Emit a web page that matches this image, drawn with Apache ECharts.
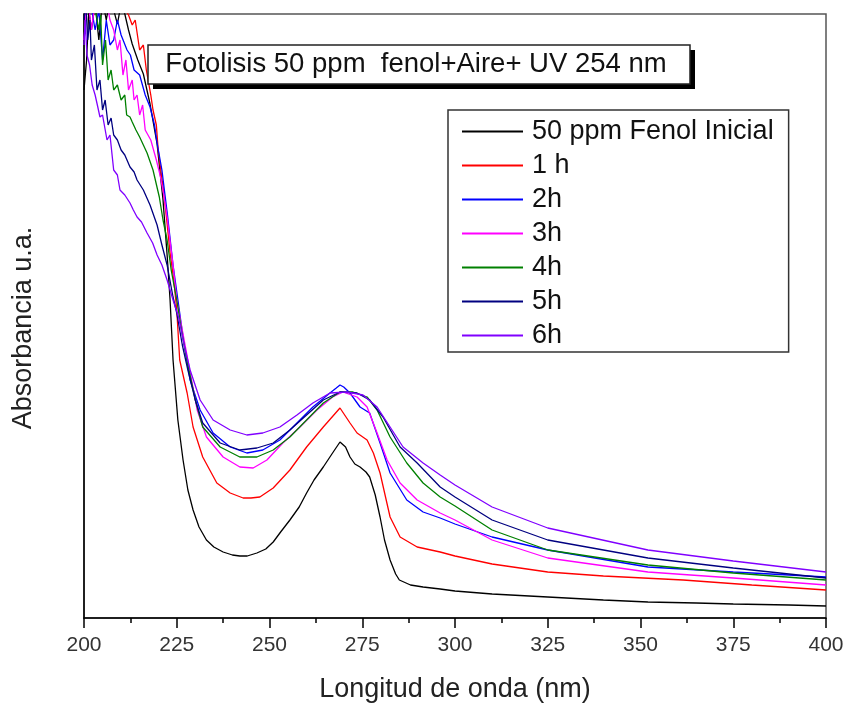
<!DOCTYPE html>
<html>
<head>
<meta charset="utf-8">
<script src="https://cdn.jsdelivr.net/npm/echarts@6/dist/echarts.min.js"></script>
<style>
html,body{margin:0;padding:0;background:#fff;}
#chart{width:843px;height:704px;}
</style>
</head>
<body>
<div id="chart"></div>
<script>
// Wavelength (nm) / absorbance (a.u.) pairs
const seriesNames = ['50 ppm Fenol Inicial', '1 h', '2h', '3h', '4h', '5h', '6h'];
const seriesColors = ['#000000', '#ff0000', '#0000ff', '#ff00ff', '#008000', '#000080', '#8000ff'];
const xTicks = [200, 225, 250, 275, 300, 325, 350, 375, 400];

const fenolInicial = [
  [200,2.64],[200.7,2.79],[201.3,3.04],[202,2.94],[203,3.07],[204,2.89],[205,3.09],[206,2.99],[207,3.09],[208,3.04],
  [209,2.97],[210,3.07],[211,3.02],[212,2.94],[213,2.87],[214.5,2.79],[216,2.72],[217.8,2.57],[219.7,2.37],[221.3,2.09],
  [222.5,1.79],[223.2,1.59],[224,1.29],[225.3,0.99],[226.7,0.79],[228,0.64],[229.4,0.54],[231,0.455],[233,0.39],[235,0.355],
  [237.5,0.33],[240,0.315],[242,0.31],[244,0.31],[246.6,0.325],[249,0.345],[251,0.38],[253,0.43],[255.5,0.49],[258,0.555],
  [260,0.625],[262,0.69],[264.5,0.755],[267,0.825],[269,0.88],[270.5,0.855],[271.7,0.805],[273,0.77],[274.4,0.755],[276,0.73],
  [277,0.705],[278.5,0.615],[279.8,0.505],[281,0.39],[282.5,0.29],[284,0.22],[285,0.19],[288,0.165],[291.4,0.155],[296,0.145],
  [300,0.135],[310,0.12],[325,0.105],[340,0.09],[352,0.08],[365,0.075],[375,0.07],[390,0.065],[400,0.06]
];
const h1 = [
  [200,3.1],[203,3.08],[206,3.1],[209,3.06],[210.5,3.08],[211.5,3.03],[212,3.015],[213,2.965],[213.8,2.99],[215,2.84],
  [216,2.865],[216.8,2.74],[218,2.615],[218.6,2.54],[219.5,2.465],[220,2.34],[221.3,2.155],[222.3,1.99],[223.2,1.825],[224.2,1.69],
  [225,1.54],[225.8,1.29],[227.8,1.125],[229.4,0.955],[232,0.805],[235.8,0.675],[239.4,0.625],[242.9,0.6],[245,0.6],[247.4,0.605],
  [251,0.65],[255.5,0.74],[260,0.855],[264.5,0.955],[269,1.05],[271.7,0.975],[273.6,0.925],[276.3,0.89],[278,0.825],[279.8,0.725],
  [282.5,0.505],[285.2,0.405],[289.8,0.355],[296,0.33],[300,0.31],[310,0.27],[325,0.23],[340,0.21],[361.5,0.19],[380,0.165],[400,0.14]
];
const h2 = [
  [200,3.08],[201,3.1],[202,3.05],[203,2.94],[204,3.04],[205,2.79],[206,2.99],[207,2.865],[208,2.89],[209,2.99],
  [210,2.915],[211.6,2.84],[212.5,2.815],[213.5,2.74],[215,2.715],[216.5,2.615],[217.8,2.555],[219,2.465],[219.7,2.375],[221,2.24],
  [222.5,2.015],[224,1.765],[225.5,1.565],[226.8,1.39],[228.6,1.19],[231.3,1.04],[234.8,0.925],[239.4,0.855],[243.9,0.825],[248.2,0.84],
  [252.8,0.89],[257.4,0.975],[261.7,1.055],[266.3,1.125],[268,1.15],[269,1.165],[270,1.155],[271.7,1.125],[274.4,1.055],[277,1.025],
  [279.8,0.875],[282.5,0.725],[287,0.59],[291.4,0.53],[296,0.5],[300,0.47],[310,0.405],[325,0.34],[352,0.255],[375,0.23],[400,0.205]
];
const h3 = [
  [200,2.89],[200.5,3.015],[201,3.1],[202,2.94],[203,3.08],[204,3.1],[205,3.05],[206,3.1],[207,2.99],[208,2.94],
  [209,2.84],[209.7,2.89],[210.5,2.715],[211.3,2.79],[212,2.64],[213,2.69],[213.5,2.59],[214.3,2.615],[215,2.515],[215.8,2.565],
  [216.5,2.44],[218,2.39],[219.5,2.29],[220.5,2.215],[221.5,2.115],[222.4,2.005],[224,1.765],[225,1.59],[226.5,1.44],[228,1.29],
  [230.5,1.04],[233,0.905],[237.5,0.805],[242,0.755],[245.6,0.75],[249.3,0.79],[253.6,0.875],[258.2,0.955],[262.8,1.04],[267,1.105],
  [269.8,1.13],[273.6,1.105],[276.3,1.055],[279,0.925],[281.7,0.79],[285.2,0.675],[289.8,0.59],[296,0.525],[300,0.49],[310,0.39],
  [325,0.3],[352,0.23],[375,0.2],[400,0.165]
];
const h4 = [
  [200,3.1],[201,3.08],[202,3.1],[203,3.05],[204,2.94],[204.5,3.015],[205,2.765],[205.8,2.89],[206.5,2.69],[207.3,2.74],
  [208,2.64],[209,2.665],[210,2.59],[211,2.615],[211.5,2.515],[212.4,2.505],[213,2.48],[214,2.44],[215,2.405],[216,2.365],
  [217,2.325],[218.6,2.24],[220.3,2.105],[221.3,1.99],[222.4,1.89],[223.5,1.74],[225,1.59],[226.5,1.415],[228,1.265],[230,1.09],
  [232,0.955],[236.7,0.855],[242,0.805],[246.6,0.805],[251,0.84],[255.5,0.905],[260,0.99],[264.5,1.075],[269,1.13],[272.5,1.13],
  [276.3,1.105],[279,1.04],[282.5,0.905],[287,0.775],[291.4,0.675],[296,0.605],[300,0.56],[310,0.44],[325,0.34],[352,0.265],
  [375,0.225],[400,0.19]
];
const h5 = [
  [200,2.99],[200.5,3.07],[201,2.89],[201.6,2.99],[202,2.79],[202.8,2.865],[203.5,2.64],[204.3,2.69],[205,2.54],[205.7,2.59],
  [206.5,2.465],[207.3,2.5],[208,2.415],[209,2.39],[210,2.34],[211,2.315],[212.4,2.255],[213.5,2.23],[214.3,2.19],[216,2.14],
  [217.8,2.065],[219.7,1.965],[221,1.865],[222.4,1.765],[224,1.605],[225,1.525],[226.5,1.365],[228,1.24],[230,1.09],[232,0.975],
  [236.7,0.875],[242,0.84],[246.6,0.85],[251,0.875],[255.5,0.94],[260,1.015],[264.5,1.09],[269,1.13],[273.6,1.125],[277,1.09],
  [280.6,1.005],[285.2,0.855],[289.8,0.775],[296,0.655],[300,0.605],[310,0.49],[325,0.39],[352,0.3],[375,0.25],[400,0.2]
];
const h6 = [
  [200,2.865],[200.3,2.99],[200.8,2.815],[201.5,2.765],[202.2,2.665],[203,2.615],[203.6,2.565],[204.3,2.505],[205,2.515],[206.2,2.39],
  [207,2.415],[208,2.24],[209,2.215],[209.7,2.14],[211,2.115],[212.4,2.075],[213.3,2.04],[214.3,2.005],[215.5,1.98],[217,1.925],
  [218.5,1.875],[219.7,1.815],[221,1.765],[222.4,1.69],[224,1.59],[225.5,1.505],[227,1.365],[228.6,1.24],[231.3,1.09],[234.8,0.99],
  [239.4,0.94],[243.9,0.915],[248.2,0.925],[252.8,0.955],[257.4,1.015],[261.7,1.075],[266.3,1.125],[270.9,1.13],[275.2,1.115],[279,1.055],
  [282.5,0.955],[286,0.855],[291.4,0.775],[296,0.715],[300,0.665],[310,0.555],[325,0.45],[352,0.34],[375,0.285],[400,0.23]
];
const allData = [fenolInicial, h1, h2, h3, h4, h5, h6];

const FONT = "'Liberation Sans', Arial, sans-serif";
const chart = echarts.init(document.getElementById('chart'), null, {renderer: 'canvas'});

const series = allData.map((d, i) => ({
  name: seriesNames[i],
  type: 'line',
  data: d,
  showSymbol: false,
  symbol: 'none',
  clip: true,
  lineStyle: {color: seriesColors[i], width: 1.3},
  itemStyle: {color: seriesColors[i]},
  emphasis: {disabled: true},
  animation: false
}));

chart.setOption({
  backgroundColor: '#ffffff',
  animation: false,
  grid: {left: 84, right: 17, top: 14, bottom: 86, outerBoundsMode: 'none', containLabel: false,
    show: true, borderColor: '#555', borderWidth: 1.5},
  xAxis: {
    type: 'value', min: 200, max: 400, interval: 25,
    name: 'Longitud de onda (nm)', nameLocation: 'middle', nameGap: 58,
    nameTextStyle: {fontFamily: FONT, fontSize: 27, color: '#222'},
    axisLine: {show: true, onZero: false, lineStyle: {color: '#000', width: 1.5}},
    axisTick: {show: true, inside: false, length: 10, lineStyle: {color: '#000', width: 1.5}},
    minorTick: {show: true, splitNumber: 2, length: 5, lineStyle: {color: '#000', width: 1.5}},
    splitLine: {show: false},
    axisLabel: {fontFamily: FONT, fontSize: 21, color: '#333', margin: 17,
      formatter: v => xTicks.includes(v) ? String(v) : ''}
  },
  yAxis: {
    type: 'value', min: 0, max: 3.02,
    name: 'Absorbancia u.a.', nameLocation: 'middle', nameGap: 47, nameRotate: 90,
    nameTextStyle: {fontFamily: FONT, fontSize: 27, color: '#222', padding: [0, 24, 0, 0]},
    axisLine: {show: true, onZero: false, lineStyle: {color: '#000', width: 1.5}},
    axisTick: {show: false},
    axisLabel: {show: false},
    splitLine: {show: false}
  },
  legend: {
    orient: 'vertical', left: 448, top: 110,
    padding: [8, 15, 3, 14],
    itemWidth: 61, itemHeight: 2, itemGap: 7,
    icon: 'rect',
    borderColor: '#333', borderWidth: 1.5, backgroundColor: '#fff',
    textStyle: {fontFamily: FONT, fontSize: 27, color: '#111', padding: [0, 0, 0, 4]},
    data: seriesNames.map((n, i) => ({name: n, itemStyle: {color: seriesColors[i]}}))
  },
  graphic: [
    {type: 'rect', z: 100, shape: {x: 153, y: 50, width: 542, height: 39}, style: {fill: '#000'}},
    {type: 'rect', z: 101, shape: {x: 148, y: 45, width: 542, height: 39}, style: {fill: '#fff', stroke: '#222', lineWidth: 1.5}},
    {type: 'text', z: 102, style: {x: 416, y: 64.5, text: 'Fotolisis 50 ppm  fenol+Aire+ UV 254 nm',
      font: "27.5px 'Liberation Sans', Arial, sans-serif", fill: '#111', align: 'center', verticalAlign: 'middle'}}
  ],
  series: series
});
</script>
</body>
</html>
